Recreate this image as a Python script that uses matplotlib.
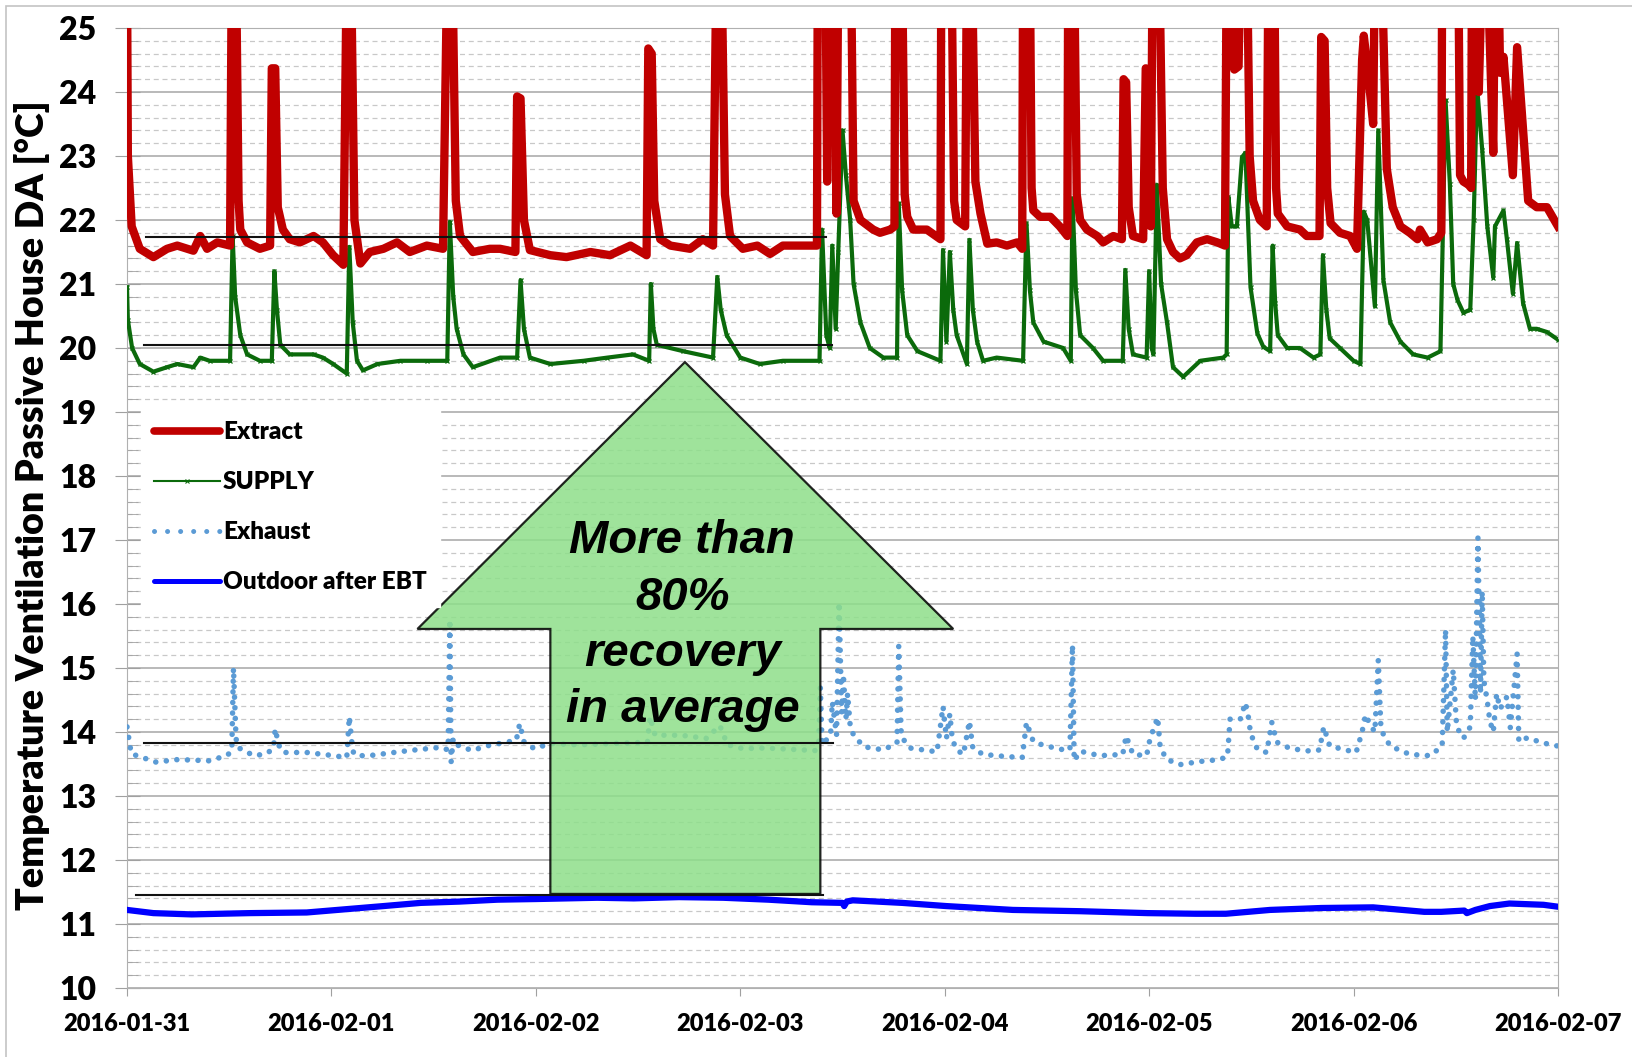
import matplotlib
matplotlib.use("Agg")
import matplotlib.pyplot as plt
import matplotlib.dates as mdates
from matplotlib.lines import Line2D
from matplotlib.patches import Polygon, Rectangle
from matplotlib.ticker import MultipleLocator
import pandas as pd

# hours after 2016-01-31 00:00, temperature in degC (26 = off the top)
extract_pts = [
    (0, 26), (0.1, 23.0), (0.55, 21.9), (1.5, 21.55), (3.1, 21.42), (4.7, 21.55), (5.9, 21.6),
    (7.8, 21.52), (8.6, 21.75), (9.4, 21.55), (10.6, 21.65), (12.1, 21.6),
    (12.3, 26), (12.8, 26), (13.1, 22.3), (13.3, 21.85), (14.1, 21.65), (15.6, 21.55), (16.8, 21.6),
    (17.0, 24.37), (17.4, 24.37), (17.7, 22.2), (18.3, 21.85), (19.1, 21.7), (20.3, 21.65),
    (21.9, 21.75), (23.0, 21.65), (24.2, 21.45), (25.4, 21.3),
    (25.8, 26), (26.3, 26), (26.7, 22.0), (27.4, 21.32), (28.5, 21.5), (30.1, 21.55), (31.7, 21.65),
    (33.2, 21.5), (35.2, 21.6), (37.1, 21.55),
    (37.6, 26), (38.2, 26), (38.6, 22.3), (39.1, 21.75), (40.6, 21.5), (42.6, 21.55), (43.8, 21.55),
    (45.6, 21.5), (45.8, 23.93), (46.2, 23.9), (46.6, 22.0), (47.3, 21.53), (49.7, 21.45),
    (51.6, 21.42), (54.4, 21.5), (56.7, 21.45), (59.1, 21.6), (61.0, 21.45),
    (61.2, 24.68), (61.6, 24.6), (61.9, 22.3), (62.6, 21.7), (63.8, 21.6), (66.1, 21.55),
    (67.6, 21.7), (68.8, 21.6),
    (69.2, 26), (69.8, 26), (70.2, 22.4), (70.8, 21.75), (72.3, 21.55), (74.0, 21.6), (75.5, 21.47),
    (77.0, 21.6), (79.4, 21.6), (81.0, 21.6),
    (81.1, 26), (82.0, 26), (82.2, 22.6), (82.4, 26), (83.0, 26), (83.3, 22.1), (83.5, 26),
    (85.0, 26), (85.3, 22.3), (86.1, 22.0), (87.6, 21.85), (88.4, 21.8), (89.6, 21.85), (90.1, 21.9),
    (90.2, 26), (91.0, 26), (91.3, 22.4), (91.6, 22.05), (92.3, 21.85), (93.9, 21.85), (95.5, 21.7),
    (95.6, 26), (96.8, 26), (97.1, 22.3), (97.4, 22.0), (98.4, 21.9),
    (98.6, 26), (99.2, 26), (99.6, 22.6), (100.2, 22.1), (101.0, 21.63), (102.1, 21.65),
    (103.3, 21.6), (104.5, 21.65), (105.1, 21.55),
    (105.2, 26), (106.0, 26), (106.2, 22.5), (106.4, 22.15), (107.2, 22.05), (108.4, 22.05),
    (109.5, 21.9), (110.4, 21.75),
    (110.5, 26), (111.2, 26), (111.5, 22.4), (111.9, 22.0), (112.7, 21.85), (113.9, 21.75),
    (114.6, 21.65), (115.8, 21.75), (116.8, 21.7),
    (117.0, 24.2), (117.3, 24.15), (117.6, 22.2), (118.1, 21.75), (119.3, 21.7),
    (119.6, 24.37), (119.9, 24.3), (120.2, 21.9), (120.4, 26), (121.2, 26), (121.6, 22.5),
    (122.1, 21.7), (122.8, 21.5), (123.6, 21.4), (124.4, 21.45), (125.6, 21.65), (126.8, 21.7),
    (128.0, 21.65), (128.9, 21.6),
    (129.1, 26), (129.8, 26), (130.0, 24.35), (130.5, 24.4), (130.7, 26), (131.5, 26), (131.8, 23.0),
    (132.2, 22.3), (133.0, 22.0), (133.8, 21.9),
    (134.0, 26), (134.7, 26), (134.9, 22.5), (135.1, 22.1), (136.2, 21.9), (137.7, 21.85),
    (138.5, 21.75), (140.0, 21.75),
    (140.2, 24.86), (140.6, 24.8), (140.9, 22.5), (141.3, 21.95), (142.4, 21.8), (143.6, 21.75),
    (144.4, 21.55), (145.0, 24.5), (145.2, 24.88), (145.7, 24.3), (146.3, 23.5), (146.5, 26),
    (147.3, 26), (147.9, 22.8), (148.6, 22.2), (149.5, 21.9), (150.6, 21.8), (151.5, 21.7),
    (151.8, 21.85), (152.7, 21.65), (153.8, 21.7), (154.3, 21.8),
    (154.4, 26), (156.3, 26), (156.5, 22.7), (156.9, 22.6), (157.5, 22.55), (157.8, 22.5),
    (157.9, 26), (158.5, 26), (158.7, 24.0), (159.1, 26), (159.7, 26), (160.4, 23.05),
    (160.6, 26), (161.0, 26), (161.2, 24.3), (161.6, 24.55), (162.7, 22.7), (163.2, 24.7),
    (164.5, 22.3), (165.5, 22.2), (166.7, 22.2), (168.0, 21.9),
]

supply_pts = [
    (0, 20.95), (0.1, 20.44), (0.6, 20.0), (1.5, 19.75), (3.1, 19.63), (4.7, 19.7), (5.9, 19.75),
    (7.8, 19.7), (8.6, 19.85), (9.7, 19.8), (12.1, 19.8),
    (12.4, 21.75), (12.7, 20.8), (13.3, 20.2), (14.1, 19.9), (15.6, 19.8), (17.0, 19.8),
    (17.3, 21.2), (17.6, 20.6), (18.0, 20.05), (19.1, 19.9), (21.9, 19.9), (23.0, 19.85),
    (24.2, 19.75), (25.8, 19.6),
    (26.1, 21.58), (26.5, 20.4), (27.0, 19.8), (27.7, 19.65), (29.4, 19.75), (32.1, 19.8),
    (35.2, 19.8), (37.6, 19.8),
    (37.9, 21.97), (38.3, 20.8), (38.7, 20.3), (39.5, 19.9), (40.6, 19.7), (43.8, 19.85),
    (45.8, 19.85), (46.2, 21.06), (46.6, 20.3), (47.3, 19.85), (49.7, 19.75), (53.6, 19.8),
    (56.4, 19.85), (59.4, 19.9), (61.3, 19.8),
    (61.5, 21.0), (61.8, 20.3), (62.2, 20.05), (65.3, 19.95), (68.8, 19.85),
    (69.3, 21.11), (69.7, 20.6), (70.4, 20.2), (72.0, 19.85), (74.3, 19.75), (77.0, 19.8),
    (81.3, 19.8),
    (81.6, 21.85), (82.1, 20.2), (82.5, 20.0), (82.8, 21.6), (83.2, 20.3), (83.5, 21.5),
    (84.0, 23.4), (84.4, 22.7), (84.9, 22.0), (85.3, 21.0), (86.1, 20.4), (87.2, 20.0),
    (88.8, 19.85), (90.4, 19.85),
    (90.6, 22.26), (91.0, 20.9), (91.6, 20.2), (92.8, 19.95), (95.5, 19.8),
    (95.8, 21.53), (96.2, 20.1), (96.6, 21.5), (97.0, 20.6), (97.4, 20.2), (98.6, 19.75),
    (98.9, 21.69), (99.3, 20.6), (99.8, 20.1), (100.5, 19.8), (102.1, 19.85), (105.2, 19.8),
    (105.6, 21.95), (106.0, 20.9), (106.4, 20.4), (107.6, 20.1), (109.9, 20.0), (110.8, 19.8),
    (111.0, 22.34), (111.4, 20.9), (111.9, 20.2), (113.4, 20.0), (114.6, 19.8), (116.9, 19.8),
    (117.2, 21.22), (117.6, 20.3), (118.1, 19.9), (119.7, 19.85),
    (120.0, 21.2), (120.3, 20.0), (120.5, 19.9), (120.9, 22.55), (121.4, 21.0), (122.1, 20.4),
    (122.8, 19.7), (124.0, 19.55), (126.0, 19.8), (128.7, 19.85), (129.1, 19.9),
    (129.3, 22.36), (129.7, 21.9), (130.3, 21.9), (130.9, 22.98), (131.3, 23.05), (131.9, 20.95),
    (132.7, 20.23), (133.4, 20.02), (134.2, 19.95),
    (134.5, 21.6), (134.8, 20.7), (135.1, 20.2), (136.2, 20.0), (137.7, 20.0), (139.3, 19.85),
    (140.1, 19.9), (140.4, 21.45), (140.8, 20.6), (141.2, 20.15), (142.4, 20.0), (144.0, 19.8),
    (144.8, 19.75), (145.2, 22.13), (145.6, 22.0), (146.5, 20.65), (146.9, 23.4), (147.5, 21.06),
    (148.3, 20.4), (149.5, 20.1), (151.0, 19.9), (152.7, 19.85), (154.2, 19.95),
    (154.8, 23.87), (155.3, 22.57), (155.7, 21.0), (156.2, 20.75), (156.9, 20.55), (157.7, 20.6),
    (158.1, 22.0), (158.5, 24.08), (159.1, 23.1), (159.7, 21.9), (160.4, 21.1), (160.6, 21.9),
    (161.6, 22.15), (162.0, 21.7), (162.7, 20.85), (163.2, 21.64), (163.9, 20.7), (164.7, 20.3),
    (165.5, 20.3), (166.7, 20.25), (168.0, 20.13),
]

exhaust_pts = [
    (0, 14.08), (0.5, 13.66), (3.4, 13.53), (6.0, 13.57), (9.6, 13.55), (11.7, 13.63), (12.3, 13.7),
    (12.5, 15.0), (12.8, 13.9), (13.0, 13.76), (14.9, 13.63), (16.4, 13.66), (17.2, 13.75),
    (17.4, 14.05), (17.8, 13.8), (18.3, 13.68), (21.1, 13.68), (24.3, 13.63), (25.8, 13.6),
    (26.1, 14.24), (26.5, 13.7), (26.9, 13.63), (28.4, 13.63), (33.1, 13.71), (36.8, 13.76),
    (37.7, 13.72), (37.9, 15.76), (38.05, 13.53), (38.3, 13.9), (38.9, 13.79), (40.5, 13.71),
    (42.5, 13.79), (45.7, 13.87), (46.1, 14.13), (46.6, 13.85), (47.8, 13.74), (49.7, 13.82),
    (53.0, 13.8), (57.0, 13.82), (61.1, 13.84),
    (61.4, 14.24), (62.0, 13.95), (65.0, 13.95), (68.0, 13.9), (69.6, 14.1), (70.5, 13.8),
    (72.3, 13.74), (75.0, 13.75), (80.8, 13.71),
    (81.2, 13.8), (81.4, 14.69), (81.6, 13.8), (82.6, 13.95), (82.8, 14.47), (83.3, 13.95),
    (83.6, 16.03), (83.9, 14.3), (84.1, 14.9), (84.4, 14.2), (84.6, 14.6), (84.9, 14.1),
    (85.3, 13.95), (86.5, 13.77), (88.8, 13.72), (90.4, 13.83),
    (90.6, 15.34), (90.9, 13.93), (91.9, 13.75), (95.1, 13.69), (95.8, 14.4), (96.2, 13.9),
    (96.6, 14.28), (96.9, 13.88), (97.4, 13.72), (98.2, 13.65),
    (98.9, 14.17), (99.3, 13.75), (100.5, 13.65), (102.9, 13.62), (105.1, 13.6),
    (105.6, 14.15), (106.4, 13.85), (107.2, 13.81), (109.5, 13.73), (110.7, 13.72),
    (111.0, 15.36), (111.2, 13.55), (111.9, 13.7), (114.2, 13.63), (116.9, 13.65),
    (117.3, 13.94), (118.1, 13.65), (119.7, 13.63), (120.1, 13.89), (121.0, 14.23), (121.3, 13.75),
    (122.1, 13.57), (123.6, 13.49), (126.0, 13.54), (128.3, 13.57), (129.2, 13.62),
    (129.5, 14.2), (130.7, 14.2), (131.3, 14.46), (131.7, 14.2), (131.9, 13.98), (132.7, 13.73),
    (133.8, 13.68), (134.4, 14.15), (135.0, 13.84), (136.6, 13.74), (139.0, 13.7), (140.0, 13.72),
    (140.5, 14.08), (141.2, 13.78), (144.3, 13.68),
    (145.0, 14.0), (145.4, 14.27), (146.0, 14.1), (146.5, 14.0), (146.9, 15.12), (147.2, 14.1),
    (147.5, 13.96), (148.3, 13.78), (150.6, 13.65), (153.0, 13.63), (154.4, 13.78),
    (154.8, 15.6), (155.0, 14.0), (155.7, 14.97), (156.1, 14.08), (156.9, 13.9), (157.7, 14.08),
    (158.0, 15.5), (158.3, 14.5), (158.6, 17.03), (158.9, 14.6), (159.1, 16.2), (159.3, 14.8),
    (159.7, 14.48), (160.0, 14.17), (160.4, 14.0), (160.8, 14.6), (161.2, 14.36), (162.0, 14.55),
    (162.4, 14.07), (163.2, 15.22), (163.4, 13.85), (164.4, 13.91), (166.2, 13.83), (168.0, 13.78),
]

outdoor_pts = [
    (0, 11.22), (3.1, 11.17), (7.6, 11.15), (14.4, 11.17), (21.1, 11.18), (25.6, 11.23),
    (30.1, 11.28), (34.5, 11.33), (39.0, 11.35), (43.5, 11.38), (48.0, 11.39), (55.2, 11.41),
    (59.5, 11.4), (64.8, 11.42), (70.0, 11.41), (75.3, 11.38), (80.4, 11.34), (84.0, 11.33),
    (84.2, 11.28), (84.5, 11.35), (85.2, 11.37), (91.0, 11.33), (96.2, 11.28), (104.0, 11.22),
    (111.9, 11.2), (119.8, 11.17), (125.5, 11.16), (129.0, 11.16), (134.2, 11.22), (140.2, 11.25),
    (146.3, 11.26), (152.3, 11.19), (154.3, 11.19), (157.0, 11.21), (157.3, 11.17), (158.3, 11.22),
    (160.0, 11.28), (162.3, 11.32), (166.3, 11.3), (168.0, 11.27),
]

# average lines: (start hour, end hour, level)
avg_lines = [(2.2, 82.1, 21.73), (2.0, 82.8, 20.04), (2.0, 82.9, 13.83), (1.0, 81.7, 11.45)]

# big arrow outline (hours, degC)
arrow_h = [65.5, 97.0, 81.4, 81.4, 49.7, 49.7, 34.1]
arrow_v = [19.78, 15.61, 15.61, 11.47, 11.47, 15.61, 15.61]
arrow_text = "More than\n80%\nrecovery\nin average"

RED = "#C00000"
GREEN = "#0B6A0B"
EXH = "#5B9BD5"
BLUE = "#0000FF"
FONT = ["Lato", "DejaVu Sans"]
HEAVY = "heavy"

t0 = pd.Timestamp("2016-01-31")


def to_time(hours):
    return t0 + pd.to_timedelta(list(hours), unit="h")


def split(pts):
    h, v = zip(*pts)
    return to_time(h), list(v)


fig = plt.figure(figsize=(16.33, 10.57), dpi=100)
ax = fig.add_axes([127 / 1633, 1 - 988 / 1057, 1431 / 1633, 960 / 1057])

# outer frame of the picture
fig.patches.append(Rectangle((6 / 1633, -0.1), 1.2, 1.1 - 6 / 1057, transform=fig.transFigure,
                             fill=False, edgecolor="#c4c4c4", lw=1.2))

x, y = split(outdoor_pts)
ax.plot(x, y, color=BLUE, lw=4.5, zorder=3)
x, y = split(exhaust_pts)
ax.plot(x, y, color=EXH, lw=4.0, linestyle=(0, (0.01, 1.9)), dash_capstyle="round", zorder=3)
x, y = split(supply_pts)
ax.plot(x, y, color=GREEN, lw=3.0, marker="x", ms=3.5, mew=0.9, zorder=4)
x, y = split(extract_pts)
ax.plot(x, y, color=RED, lw=6.0, solid_joinstyle="round", zorder=5)

# arrow
ax_x = mdates.date2num(to_time(arrow_h))
ax.add_patch(Polygon(list(zip(ax_x, arrow_v)), closed=True, facecolor="#8EDF8A", alpha=0.85,
                     edgecolor="black", lw=1.6, zorder=6))
ax.text(mdates.date2num(to_time([65.2]))[0], 15.66, arrow_text, ha="center", va="center",
        fontsize=34, fontweight="bold", fontstyle="italic", family="Liberation Sans",
        linespacing=1.36, zorder=8)

for h0, h1, lvl in avg_lines:
    ax.plot(to_time([h0, h1]), [lvl, lvl], color="#111111", lw=1.5, zorder=7)

ax.set_ylim(10, 25)
ax.set_xlim(t0, t0 + pd.Timedelta(days=7))
ax.yaxis.set_major_locator(MultipleLocator(1))
ax.yaxis.set_minor_locator(MultipleLocator(0.2))
ax.xaxis.set_major_locator(mdates.DayLocator())
ax.xaxis.set_major_formatter(mdates.DateFormatter("%Y-%m-%d"))
ax.grid(axis="y", which="major", color="#a6a6a6", lw=1.1)
ax.grid(axis="y", which="minor", color="#c8c8c8", lw=0.9, linestyle=(0, (4, 3)))
ax.set_axisbelow(True)
for s in ax.spines.values():
    s.set_color("#b0b0b0")

ax.tick_params(axis="y", which="major", direction="inout", length=18, color="#a0a0a0",
               labelsize=23, pad=13)
ax.tick_params(axis="y", which="minor", direction="in", length=8, color="#a0a0a0")
ax.tick_params(axis="x", which="major", direction="out", length=6, color="#a0a0a0",
               labelsize=17, pad=12)
for lab in ax.get_xticklabels() + ax.get_yticklabels():
    lab.set_fontweight(HEAVY)
    lab.set_family(FONT)

fig.text(32 / 1633, 1 - 505 / 1057, "Temperature Ventilation Passive House DA [°C]",
         rotation=90, ha="center", va="center", fontsize=27, fontweight=HEAVY, family=FONT)

handles = [
    Line2D([], [], color=RED, lw=5.5, solid_capstyle="round"),
    Line2D([], [], color=GREEN, lw=1.5, marker="x", ms=3, mew=0.8),
    Line2D([], [], color=EXH, lw=3.6, linestyle=(0, (0.01, 2.6)), dash_capstyle="round"),
    Line2D([], [], color=BLUE, lw=3.6, solid_capstyle="round"),
]
labels = ["Extract", "SUPPLY", "Exhaust", "Outdoor after EBT"]
leg = ax.legend(handles, labels, loc="upper left", bbox_to_anchor=(141 / 1633, 1 - 408 / 1057),
                bbox_transform=fig.transFigure, frameon=True, fancybox=False, framealpha=1,
                facecolor="white", edgecolor="white", borderaxespad=0, borderpad=0.55,
                handlelength=2.7, handletextpad=0.12, labelspacing=1.15, numpoints=1,
                prop={"family": FONT, "weight": HEAVY, "size": 17.5})
leg.set_zorder(9)

fig.savefig("out.png", dpi=100)
